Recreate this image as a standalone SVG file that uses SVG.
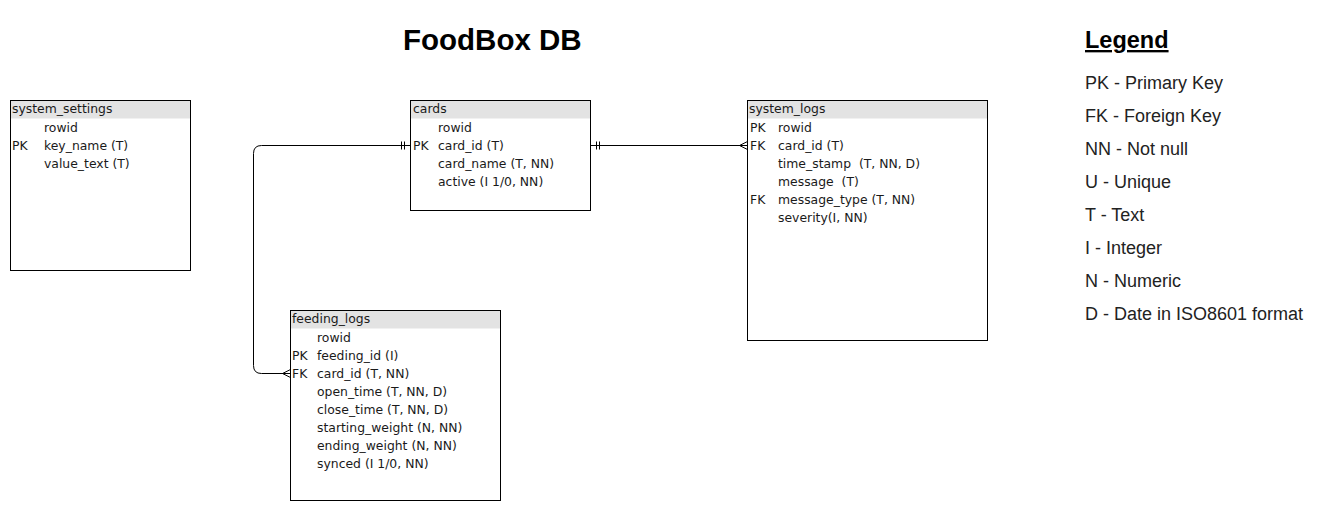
<svg xmlns="http://www.w3.org/2000/svg" width="1331" height="511" viewBox="0 0 1331 511">
<style>
.box{fill:#ffffff;stroke:#000000;stroke-width:1}
.hdr{fill:#e3e3e3;stroke:none}
.t{font-family:"DejaVu Sans",Verdana,sans-serif;font-size:12.4px;fill:#1a1a1a;white-space:pre}
.conn{fill:none;stroke:#000000;stroke-width:1}
.title{font-family:"Liberation Sans",Arial,sans-serif;font-size:29.5px;font-weight:bold;fill:#000000}
.lh{font-family:"Liberation Sans",Arial,sans-serif;font-size:23.5px;font-weight:bold;text-decoration:underline;fill:#000000}
.li{font-family:"Liberation Sans",Arial,sans-serif;font-size:18px;fill:#222222}
</style>
<defs>
<marker id="one" markerUnits="userSpaceOnUse" viewBox="0 0 12 12" refX="12" refY="6" markerWidth="12" markerHeight="12" orient="auto-start-reverse">
<path d="M3,2 V10 M6,2 V10" fill="none" stroke="#000" stroke-width="1"/>
</marker>
<marker id="many" markerUnits="userSpaceOnUse" viewBox="0 0 12 12" refX="12" refY="6" markerWidth="12" markerHeight="12" orient="auto">
<path d="M12,2 L4,6 L12,10 M4,6 H12" fill="none" stroke="#000" stroke-width="1"/>
</marker>
</defs>
<rect width="1331" height="511" fill="#ffffff"/>
<text class="title" x="403" y="50">FoodBox DB</text>

<g id="connectors">
<path class="conn" d="M590.5,145.5 H747.5" marker-start="url(#one)" marker-end="url(#many)"/>
<path class="conn" d="M410.5,145.5 H261.5 Q253.5,145.5 253.5,153.5 V365.5 Q253.5,373.5 261.5,373.5 H290.5" marker-start="url(#one)" marker-end="url(#many)"/>
</g>

<g id="system_settings">
<rect class="box" x="10.5" y="100.5" width="180" height="170"/>
<rect class="hdr" x="11" y="101" width="179" height="17.5"/>
<text class="t" x="12" y="113">system_settings</text>
<text class="t" x="44" y="132">rowid</text>
<text class="t" x="12" y="150">PK</text><text class="t" x="44" y="150">key_name (T)</text>
<text class="t" x="44" y="168">value_text (T)</text>
</g>

<g id="cards">
<rect class="box" x="410.5" y="100.5" width="180" height="110"/>
<rect class="hdr" x="411" y="101" width="179" height="17.5"/>
<text class="t" x="413" y="113">cards</text>
<text class="t" x="438" y="132">rowid</text>
<text class="t" x="413" y="150">PK</text><text class="t" x="438" y="150">card_id (T)</text>
<text class="t" x="438" y="168">card_name (T, NN)</text>
<text class="t" x="438" y="186">active (I 1/0, NN)</text>
</g>

<g id="system_logs">
<rect class="box" x="747.5" y="100.5" width="240" height="240"/>
<rect class="hdr" x="748" y="101" width="239" height="17.5"/>
<text class="t" x="749" y="113">system_logs</text>
<text class="t" x="750" y="132">PK</text><text class="t" x="778" y="132">rowid</text>
<text class="t" x="750" y="150">FK</text><text class="t" x="778" y="150">card_id (T)</text>
<text class="t" x="778" y="168" xml:space="preserve">time_stamp  (T, NN, D)</text>
<text class="t" x="778" y="186" xml:space="preserve">message  (T)</text>
<text class="t" x="750" y="204">FK</text><text class="t" x="778" y="204">message_type (T, NN)</text>
<text class="t" x="778" y="222">severity(I, NN)</text>
</g>

<g id="feeding_logs">
<rect class="box" x="290.5" y="310.5" width="210" height="190"/>
<rect class="hdr" x="291" y="311" width="209" height="17.5"/>
<text class="t" x="292" y="323">feeding_logs</text>
<text class="t" x="317" y="342">rowid</text>
<text class="t" x="292" y="360">PK</text><text class="t" x="317" y="360">feeding_id (I)</text>
<text class="t" x="292" y="378">FK</text><text class="t" x="317" y="378">card_id (T, NN)</text>
<text class="t" x="317" y="396">open_time (T, NN, D)</text>
<text class="t" x="317" y="414">close_time (T, NN, D)</text>
<text class="t" x="317" y="432">starting_weight (N, NN)</text>
<text class="t" x="317" y="450">ending_weight (N, NN)</text>
<text class="t" x="317" y="468">synced (I 1/0, NN)</text>
</g>

<g id="legend">
<text class="lh" x="1085" y="48">Legend</text>
<text class="li" x="1085" y="89">PK - Primary Key</text>
<text class="li" x="1085" y="122">FK - Foreign Key</text>
<text class="li" x="1085" y="155">NN - Not null</text>
<text class="li" x="1085" y="188">U - Unique</text>
<text class="li" x="1085" y="221">T - Text</text>
<text class="li" x="1085" y="254">I - Integer</text>
<text class="li" x="1085" y="287">N - Numeric</text>
<text class="li" x="1085" y="320">D - Date in ISO8601 format</text>
</g>
</svg>
